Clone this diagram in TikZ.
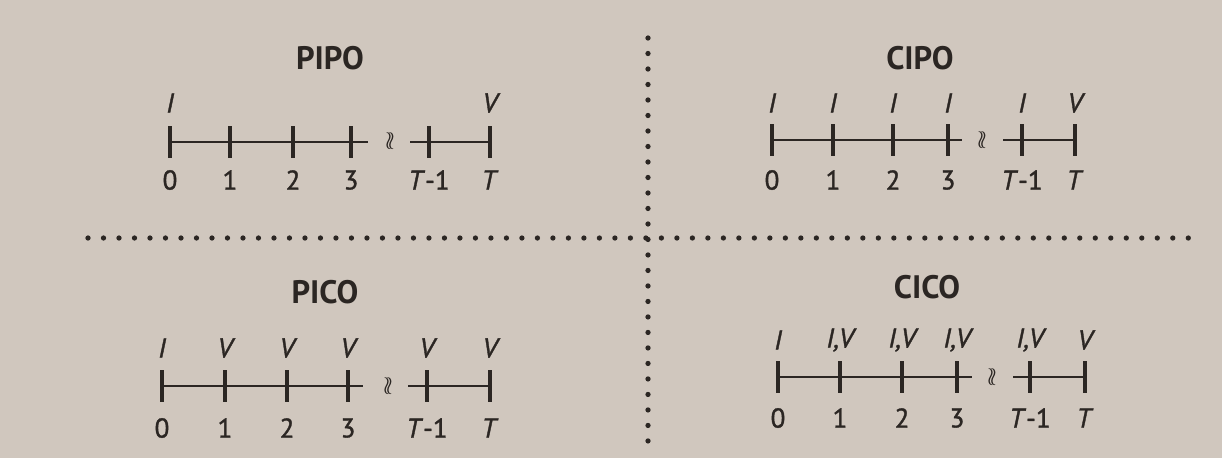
\documentclass[tikz,border=0pt]{standalone}
\usepackage{fontspec}
\setmainfont{PT Sans}
\newfontfamily\lblfont{PT Sans}[FakeBold=1.3]
\usepackage{tikz}
\usetikzlibrary{positioning}
\definecolor{paper}{HTML}{D0C7BE}
\definecolor{ink}{HTML}{2B2623}

\tikzset{
  tickmark/.style={ink, line width=1.9pt},
  axisline/.style={ink, line width=1.5pt},
  paneltitle/.style={ink, font=\bfseries\fontsize{18.5}{20}\selectfont},
  numlbl/.style={ink, font=\lblfont\fontsize{15.5}{16}\selectfont},
  flowlbl/.style={ink, font=\lblfont\itshape\fontsize{15.5}{16}\selectfont},
  brk/.style={ink, font=\fontsize{14}{14}\selectfont, inner sep=0pt},
  sepline/.style={ink, line width=3pt, line cap=round}
}

\begin{document}
\begin{tikzpicture}[x=0.02cm, y=-0.02cm]
\fill[paper] (0,0) rectangle (1222,458);
\useasboundingbox (0,0) rectangle (1222,458);

% separators
\coordinate (vtop) at (648,38);
\coordinate (vbot) at (648,448);
\coordinate (hleft) at (88,238);
\coordinate (hright) at (1190,238);
\draw[sepline, dash pattern=on 0pt off 0.31cm] (vtop) -- (vbot);
\draw[sepline, dash pattern=on 0pt off 0.31cm] (hleft) -- (hright);

% PIPO
\node[paneltitle] (pipo) at (330,58) {PIPO};
\begin{scope}[shift={(170,142)}]
\foreach \x/\n/\f [count=\i] in {0/0/I, 60/1/{}, 123/2/{}, 181/3/{}, 259/{\textit{T}-1}/{}, 320/\textit{T}/V} {
  \coordinate (pipo-\i) at (\x,0);
  \draw[tickmark] (\x,-16) -- (\x,16);
  \node[numlbl] (pipo-n\i) at (\x,38) {\n};
  \node[flowlbl] (pipo-f\i) at (\x,-39) {\f};
}
\coordinate (pipo-e) at (198,0);
\coordinate (pipo-s) at (240,0);
\node[brk] (pipo-b) at (220,-1) {$\wr\!\wr$};
\draw[axisline] (pipo-1) -- (pipo-e);
\draw[axisline] (pipo-s) -- (pipo-6);
\end{scope}

% CIPO
\node[paneltitle] (cipo) at (920,58) {CIPO};
\begin{scope}[shift={(772,140)}]
\foreach \x/\n/\f [count=\i] in {0/0/I, 61/1/I, 121/2/I, 176/3/I, 250/{\textit{T}-1}/I, 303/\textit{T}/V} {
  \coordinate (cipo-\i) at (\x,0);
  \draw[tickmark] (\x,-16) -- (\x,16);
  \node[numlbl] (cipo-n\i) at (\x,40) {\n};
  \node[flowlbl] (cipo-f\i) at (\x,-37) {\f};
}
\coordinate (cipo-e) at (190,0);
\coordinate (cipo-s) at (231,0);
\node[brk] (cipo-b) at (210,0) {$\wr\!\wr$};
\draw[axisline] (cipo-1) -- (cipo-e);
\draw[axisline] (cipo-s) -- (cipo-6);
\end{scope}

% PICO
\node[paneltitle] (pico) at (325,292) {PICO};
\begin{scope}[shift={(162,386)}]
\foreach \x/\n/\f [count=\i] in {0/0/I, 63/1/V, 125/2/V, 186/3/V, 265/{\textit{T}-1}/V, 328/\textit{T}/V} {
  \coordinate (pico-\i) at (\x,0);
  \draw[tickmark] (\x,-16) -- (\x,16);
  \node[numlbl] (pico-n\i) at (\x,42) {\n};
  \node[flowlbl] (pico-f\i) at (\x,-38) {\f};
}
\coordinate (pico-e) at (201,0);
\coordinate (pico-s) at (246,0);
\node[brk] (pico-b) at (226,0) {$\wr\!\wr$};
\draw[axisline] (pico-1) -- (pico-e);
\draw[axisline] (pico-s) -- (pico-6);
\end{scope}

% CICO
\node[paneltitle] (cico) at (927,287) {CICO};
\begin{scope}[shift={(778,377)}]
\foreach \x/\n/\f [count=\i] in {0/0/I, 62/1/{I,V}, 124/2/{I,V}, 179/3/{I,V}, 252/{\textit{T}-1}/{I,V}, 307/\textit{T}/V} {
  \coordinate (cico-\i) at (\x,0);
  \draw[tickmark] (\x,-16) -- (\x,16);
  \node[numlbl] (cico-n\i) at (\x,41) {\n};
  \node[flowlbl] (cico-f\i) at (\x,-37) {\f};
}
\coordinate (cico-e) at (194,0);
\coordinate (cico-s) at (235,0);
\node[brk] (cico-b) at (214,0) {$\wr\!\wr$};
\draw[axisline] (cico-1) -- (cico-e);
\draw[axisline] (cico-s) -- (cico-6);
\end{scope}
\end{tikzpicture}
\end{document}
